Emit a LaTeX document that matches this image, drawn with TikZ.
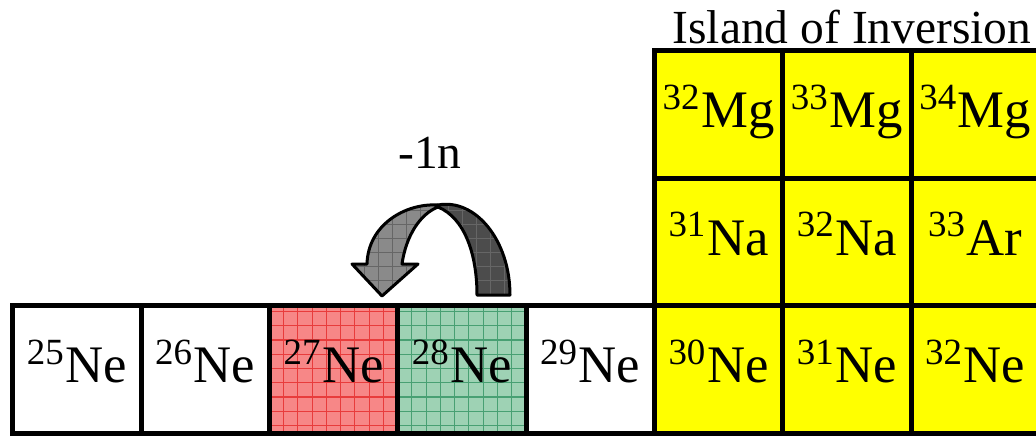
\documentclass[tikz,border=0pt]{standalone}
\usepackage{fontspec}
\setmainfont{Liberation Serif}
\usetikzlibrary{positioning}
\definecolor{lostred}{RGB}{247,135,135}
\definecolor{lostredgrid}{RGB}{232,60,60}
\definecolor{keptgreen}{RGB}{158,210,180}
\definecolor{keptgreengrid}{RGB}{72,160,115}
\definecolor{islandyellow}{RGB}{255,255,0}
\definecolor{arrowlight}{RGB}{138,138,138}
\definecolor{arrowdark}{RGB}{76,76,76}
\tikzset{
    base/.style = {
        draw=black, line width=0.05cm, outer sep=0pt, inner sep=0pt,
        minimum width=1.2825cm, minimum height=1.275cm,
        text height=0.4cm, text depth=0.14cm, font=\fontsize{15}{18}\selectfont
    },
    % Cells of the chart
    cell/.style    = {base, fill=white},
    island/.style  = {base, fill=islandyellow},
    lost/.style    = {base, fill=lostred, path picture={
        \draw[lostredgrid, line width=0.3pt] (path picture bounding box.south west)
            grid[step=0.1425cm] (path picture bounding box.north east);}},
    kept/.style    = {base, fill=keptgreen, path picture={
        \draw[keptgreengrid, line width=0.3pt] (path picture bounding box.south west)
            grid[step=0.1425cm] (path picture bounding box.north east);}},
    % Bent arrow and annotations
    bentarrow/.style = {draw=black, line width=0.03cm, line join=round, path picture={
        \draw[black!60, line width=0.25pt] (path picture bounding box.south west)
            grid[step=0.14cm] (path picture bounding box.north east);}},
    annotation/.style = {font=\fontsize{13.5}{16}\selectfont, inner sep=0pt, anchor=base}
}

\begin{document}
\begin{tikzpicture}[x=0.01cm, y=-0.01cm]
    \useasboundingbox (0,0) rectangle (1036,436);

    % Neon chain (bottom row)
    \node (ne25) [cell] at (77,369.75) {\textsuperscript{25}Ne};
    \node (ne26) [cell, right=0pt of ne25] {\textsuperscript{26}Ne};
    \node (ne27) [lost, right=0pt of ne26] {\textsuperscript{27}Ne};
    \node (ne28) [kept, right=0pt of ne27] {\textsuperscript{28}Ne};
    \node (ne29) [cell, right=0pt of ne28] {\textsuperscript{29}Ne};
    \node (ne30) [island, right=0pt of ne29] {\textsuperscript{30}Ne};
    \node (ne31) [island, right=0pt of ne30] {\textsuperscript{31}Ne};
    \node (ne32) [island, right=0pt of ne31] {\textsuperscript{32}Ne};

    % Island of inversion (upper rows)
    \node (na31) [island, above=0pt of ne30] {\textsuperscript{31}Na};
    \node (na32) [island, above=0pt of ne31] {\textsuperscript{32}Na};
    \node (ar33) [island, above=0pt of ne32] {\textsuperscript{33}Ar};
    \node (mg32) [island, above=0pt of na31] {\textsuperscript{32}Mg};
    \node (mg33) [island, above=0pt of na32] {\textsuperscript{33}Mg};
    \node (mg34) [island, above=0pt of ar33] {\textsuperscript{34}Mg};

    \node (title) [annotation] at (852,43) {Island of Inversion};
    \node (loss) [annotation] at (430,168) {-1n};

    % Bent arrow from 28Ne back to 27Ne
    \path[bentarrow, fill=arrowdark] (438,205) .. controls (475,198) and (510,240) .. (510,295)
        -- (477,295) .. controls (477,255) and (465,218) .. (438,207) -- cycle;
    \path[bentarrow, fill=arrowlight] (438,205) .. controls (405,203) and (368,225) .. (367,264)
        -- (352,264) -- (382,296) -- (418,264) -- (402,264)
        .. controls (406,236) and (420,214) .. (438,207) -- cycle;

\end{tikzpicture}
\end{document}
